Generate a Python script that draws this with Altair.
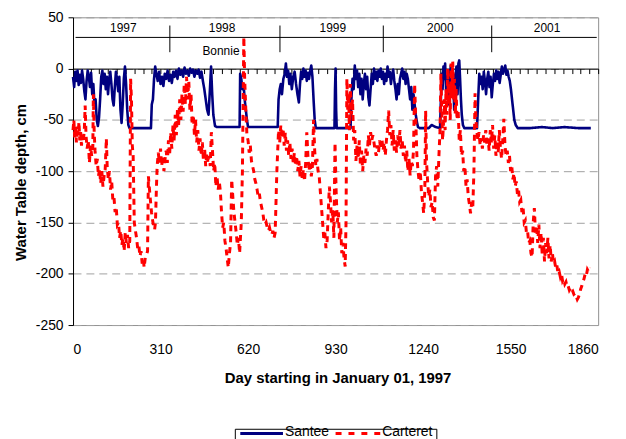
import altair as alt
import pandas as pd

# ---- data (day since 1997-01-01, water table depth in cm) ----
SANTEE = [
    (0, -8), (4, -18), (8, -3), (12, -12), (16, -2), (20, -16), (24, -6), (28, -14), (32, -2), (36, -10),
    (40, -22), (44, -30), (48, -12), (52, -2), (56, -8), (60, -18), (64, -4), (68, -25), (72, -15), (76, -35),
    (80, -30), (84, -50), (88, -56), (92, -48), (96, -30), (100, -8), (104, -2), (108, -15), (112, -5), (116, -20),
    (120, -8), (124, -25), (128, -10), (132, -3), (136, -15), (140, -30), (144, -36), (148, -18), (152, -3),
    (156, -10), (160, -22), (164, -8), (168, -40), (172, -53), (176, -35), (180, -10), (184, 2), (188, -15),
    (192, -40), (196, -55), (200, -58), (240, -58), (276, -58),
    (279, -35), (283, -30), (287, -10), (291, 2), (295, -5), (300, -12), (305, -3), (310, -15), (315, -8),
    (320, -17), (325, -5), (330, -10), (335, -2), (340, -12), (345, -6), (350, -14), (355, -3), (360, -8),
    (365, -2), (370, -10), (375, 0), (380, -6), (385, -2), (390, -8), (395, 1), (400, -5), (405, -2), (410, -7),
    (415, 0), (420, -4), (425, -1), (430, -8), (435, -2), (440, -5), (445, -1), (450, -9), (455, -3), (460, -12),
    (465, -20), (470, -30), (475, -40), (480, -45), (485, -20), (489, 2), (493, -25), (497, -45), (503, -56),
    (510, -57), (550, -57), (590, -57),
    (592, -5), (596, -10), (600, -20), (604, -15), (608, -30), (612, -40), (616, -50), (620, -57), (680, -57),
    (725, -57),
    (728, -30), (732, -20), (736, -15), (740, -25), (745, -10), (750, -5), (754, 5), (758, -8), (762, -2),
    (766, -15), (770, -5), (775, -20), (780, -8), (785, -3), (790, -15), (795, -25), (800, -33), (804, -15),
    (808, -3), (812, -10), (816, 0), (820, -8), (824, -2), (828, -12), (832, -4), (836, -10), (840, -2),
    (844, 3), (848, -8), (852, -30), (856, -50), (860, -58), (890, -58), (926, -58), (928, -20), (930, 0),
    (932, -40), (934, -58), (960, -58), (983, -58),
    (986, -30), (990, -10), (994, -20), (998, 3), (1002, -10), (1006, -2), (1010, -18), (1014, -5), (1018, -25),
    (1022, -10), (1026, -30), (1030, -15), (1034, -5), (1038, -20), (1042, -8), (1046, -28), (1050, -36),
    (1054, -20), (1058, -5), (1062, -15), (1066, 0), (1070, -10), (1074, -3), (1078, -12), (1082, -2),
    (1086, -8), (1090, 0), (1094, -10), (1098, -3), (1102, -15), (1106, -5), (1110, -12), (1114, 2),
    (1118, -8), (1122, -3), (1126, -15), (1130, -6), (1134, -1), (1138, -12), (1142, -20), (1146, -30),
    (1150, -15), (1154, -25), (1158, -10), (1162, -5), (1166, 0), (1170, -10), (1174, -3), (1178, -15),
    (1182, -5), (1186, -10), (1190, -20), (1194, -30), (1198, -18), (1202, -40), (1206, -25), (1210, -35),
    (1214, -45), (1218, -52), (1222, -57), (1228, -58), (1260, -58), (1270, -55), (1285, -57), (1300, -58),
    (1303, -30), (1306, -5), (1309, -20), (1312, 2), (1315, -10), (1318, 5), (1322, -25), (1326, -8),
    (1330, -35), (1334, -15), (1338, 3), (1342, -20), (1346, -5), (1350, -40), (1354, -10), (1358, 2),
    (1362, -25), (1365, 5), (1368, 8), (1371, -10), (1374, -30), (1377, -45), (1381, -55), (1386, -58),
    (1410, -58), (1431, -58),
    (1435, -30), (1439, -5), (1443, -15), (1447, -8), (1451, -20), (1455, -3), (1459, -12), (1463, -25),
    (1467, -10), (1471, -3), (1475, -18), (1479, -8), (1483, -28), (1487, -15), (1491, -5), (1495, -12),
    (1499, -2), (1503, -10), (1507, -3), (1511, -14), (1515, -6), (1519, 2), (1523, -5), (1527, -1),
    (1531, 3), (1535, -6), (1539, -2), (1543, -8), (1547, -12), (1551, -20), (1555, -30), (1559, -40),
    (1563, -50), (1568, -55), (1575, -58), (1620, -58), (1660, -57), (1700, -58), (1740, -57), (1790, -58),
    (1834, -58),
]

CARTERET = [
    (0, -60), (3, -50), (6, -68), (9, -55), (12, -72), (15, -58), (18, -65), (21, -52), (24, -70), (27, -62),
    (30, -75), (33, -66), (36, -72), (40, -60), (43, -36), (46, -65), (50, -78), (54, -70), (58, -92), (62, -75),
    (66, -85), (70, -80), (72, -25), (75, -62), (78, -80), (82, -95), (86, -88), (90, -105), (94, -98),
    (98, -112), (102, -100), (106, -115), (110, -105), (114, -98), (118, -68), (121, -95), (125, -108),
    (129, -100), (133, -118), (137, -110), (141, -128), (145, -125), (149, -140), (153, -135), (157, -152),
    (161, -150), (165, -165), (169, -158), (173, -172), (177, -165), (181, -178), (185, -160), (189, -170),
    (193, -162), (197, -175), (201, -168), (204, -10), (207, -30), (210, -75), (213, -85), (217, -150),
    (221, -158), (225, -165), (229, -175), (233, -172), (237, -183), (241, -178), (245, -190), (249, -186),
    (252, -194), (256, -184), (260, -182), (264, -178), (267, -105), (270, -115), (274, -128), (278, -140),
    (282, -148), (286, -155), (289, -157), (292, -150), (295, -120), (298, -95), (302, -82), (306, -92),
    (310, -78), (314, -95), (318, -85), (322, -100), (326, -88),
    (330, -80), (334, -92), (338, -70), (342, -85), (346, -62), (350, -78), (354, -55), (358, -70), (362, -45),
    (366, -65), (370, -40), (374, -55), (378, -30), (382, -50), (386, -25), (390, -42), (394, -15), (398, -35),
    (402, -8), (406, -30), (410, -12), (414, -40), (418, -25), (422, -55), (426, -45), (430, -65), (434, -50),
    (438, -72), (442, -60), (446, -80), (450, -68), (454, -85), (458, -72), (462, -90), (466, -78), (470, -95),
    (474, -82), (478, -92), (482, -85), (486, -95), (490, -62), (494, -80), (498, -100), (502, -92),
    (506, -115), (510, -105), (514, -118), (518, -110), (522, -120), (526, -140), (530, -155), (534, -150),
    (538, -168), (542, -175), (546, -185), (550, -194), (554, -180), (558, -170), (562, -108), (566, -125),
    (570, -140), (574, -150), (578, -160), (582, -172), (586, -165), (590, -180), (596, -150), (600, -100),
    (605, 31), (608, -10), (612, -40), (616, -65), (620, -70), (624, -82), (628, -75), (632, -90), (636, -95),
    (640, -100), (644, -108), (648, -112), (652, -118), (656, -125), (660, -122), (664, -130), (668, -135),
    (672, -140), (676, -148), (680, -152), (684, -150), (688, -155), (692, -158), (696, -155), (700, -160),
    (704, -162), (708, -158), (712, -165), (716, -160), (719, -130), (722, -100), (725, -80),
    (728, -60), (732, -72), (736, -55), (740, -68), (744, -58), (748, -75), (752, -62), (756, -80), (760, -70),
    (764, -85), (768, -72), (772, -88), (776, -78), (780, -92), (784, -82), (788, -95), (792, -85),
    (796, -100), (800, -90), (804, -105), (808, -95), (812, -108), (816, -98), (820, -110), (824, -92),
    (828, -62), (832, -85), (836, -100), (840, -90), (844, -105), (848, -95), (852, -50), (856, -80),
    (860, -95), (864, -88), (868, -100), (872, -105), (876, -120), (880, -135), (884, -150), (888, -165),
    (892, -160), (896, -175), (900, -168), (904, -140), (908, -115), (912, -130), (916, -150), (920, -138),
    (924, -165), (928, -72), (932, -120), (936, -150), (940, -140), (944, -168), (948, -155), (952, -180),
    (956, -170), (960, -185), (964, -193), (967, -150), (970, -10), (973, -40), (976, -25), (979, -60),
    (982, -15), (986, -45), (990, -30), (994, -70), (998, -60), (1002, -90), (1006, -75), (1010, -88),
    (1014, -70), (1018, -95), (1022, -80), (1026, -100), (1030, -85), (1034, -92), (1038, -78), (1042, -85),
    (1046, -65), (1050, -75), (1054, -62), (1058, -70), (1062, -65), (1066, -72), (1070, -80), (1074, -85),
    (1078, -75), (1082, -82), (1086, -70), (1090, -78), (1094, -68), (1098, -80), (1102, -72), (1106, -85),
    (1110, -70), (1114, -60), (1118, -41), (1122, -65), (1126, -55), (1130, -75), (1134, -60), (1138, -80),
    (1142, -70), (1146, -82), (1150, -65), (1154, -75), (1158, -60), (1162, -78), (1166, -70), (1170, -85),
    (1174, -75), (1178, -92), (1182, -80), (1186, -100), (1190, -88), (1194, -104), (1198, -90), (1202, -95),
    (1206, -80), (1210, -15), (1214, -50), (1218, -85), (1222, -100), (1226, -110), (1230, -100),
    (1234, -120), (1238, -130), (1242, -141), (1246, -120), (1249, -41), (1252, -90), (1256, -110),
    (1260, -125), (1264, -118), (1268, -135), (1272, -130), (1276, -145), (1280, -148),
    (1284, -105), (1288, -95), (1292, -115), (1296, -85), (1300, -60), (1303, -5), (1306, -40), (1309, -70),
    (1312, -55), (1315, -30), (1318, -60), (1321, -20), (1324, -45), (1327, 0), (1330, -35), (1333, -15),
    (1336, -50), (1339, 5), (1342, -25), (1345, 7), (1348, -30), (1351, -10), (1354, -45), (1357, -20),
    (1360, -50), (1364, -40), (1368, -70), (1372, -60), (1376, -85), (1380, -80), (1384, -100), (1388, -95),
    (1392, -115), (1396, -108), (1400, -125), (1404, -132), (1408, -141), (1412, -130), (1416, -135),
    (1420, -100), (1424, -24), (1427, -50), (1430, -60), (1434, -70), (1438, -62), (1442, -75), (1446, -68),
    (1450, -78), (1454, -65), (1458, -72), (1462, -60), (1466, -75), (1470, -68), (1474, -80), (1478, -60),
    (1482, -72), (1486, -55), (1490, -78), (1494, -65), (1498, -85), (1502, -70), (1506, -82), (1510, -60),
    (1514, -78), (1518, -88), (1522, -70), (1526, -49), (1530, -75), (1534, -85), (1538, -80), (1542, -92),
    (1546, -85), (1550, -100), (1554, -95), (1558, -108), (1562, -102), (1566, -115), (1570, -110),
    (1574, -122), (1578, -118), (1582, -130), (1586, -128), (1590, -140), (1594, -135), (1598, -150),
    (1602, -148), (1606, -160), (1610, -158), (1614, -170), (1618, -168), (1622, -180), (1626, -184),
    (1630, -150), (1634, -136), (1638, -160), (1642, -155), (1646, -170), (1650, -152), (1654, -175),
    (1658, -160), (1662, -182), (1666, -165), (1670, -188), (1674, -170), (1678, -180), (1682, -165),
    (1686, -185), (1690, -172), (1694, -188), (1698, -180), (1702, -190), (1706, -188), (1710, -195),
    (1714, -192), (1718, -200), (1722, -198), (1726, -203), (1730, -200), (1734, -207), (1738, -205),
    (1742, -210), (1746, -208), (1750, -213), (1754, -212), (1758, -216), (1762, -214), (1766, -218),
    (1770, -217), (1774, -220), (1778, -219), (1782, -222), (1786, -225), (1790, -223), (1794, -220),
    (1798, -215), (1802, -212), (1806, -208), (1810, -205), (1814, -200), (1818, -202), (1822, -196),
    (1826, -198), (1830, -194),
]

SITES = ["Santee", "Carteret"]
SITE_COLORS = ["#000080", "#FF0000"]

YEAR_LABELS = ["1997", "1998", "1999", "2000", "2001"]
YEAR_LABEL_DAY = [178, 528, 920, 1301, 1679]
YEAR_LABEL_CM = [40, 40, 40, 40, 40]
YEAR_SEP_DAY = [343, 733, 1099, 1483]
YEAR_SEP_TOP = 42
YEAR_SEP_BOTTOM = 16
YEAR_LINE_START, YEAR_LINE_END, YEAR_LINE_CM = 9, 1855, 30.4
EVENT_LABEL, EVENT_DAY, EVENT_CM = "Bonnie", 524, 17

X_LABEL_TICKS = [0, 310, 620, 930, 1240, 1550, 1860]
X_MINOR_TICKS = list(range(0, 1861, 31))
Y_TICKS = [-250, -200, -150, -100, -50, 0, 50]

FONT = "Liberation Sans"

rows = [{"day": d, "cm": v, "site": "Santee"} for d, v in SANTEE]
rows += [{"day": d, "cm": v, "site": "Carteret"} for d, v in CARTERET]
df = pd.DataFrame(rows)

sep_df = pd.DataFrame({"day": YEAR_SEP_DAY, "top": [YEAR_SEP_TOP] * len(YEAR_SEP_DAY),
                       "bottom": [YEAR_SEP_BOTTOM] * len(YEAR_SEP_DAY)})
line_df = pd.DataFrame({"x1": [YEAR_LINE_START], "x2": [YEAR_LINE_END], "y": [YEAR_LINE_CM]})
lab_df = pd.DataFrame({"day": YEAR_LABEL_DAY + [EVENT_DAY], "cm": YEAR_LABEL_CM + [EVENT_CM],
                       "label": YEAR_LABELS + [EVENT_LABEL]})
legend_df = pd.DataFrame({"site": SITES})

xs = alt.Scale(domain=[0, 1860], nice=False, zero=False)
ys = alt.Scale(domain=[-250, 50], nice=False, zero=False)

W, H = 529, 310
y_zero_px = H * 50 / 300.0

color = alt.Color("site:N", scale=alt.Scale(domain=SITES, range=SITE_COLORS), legend=None)
dash = alt.StrokeDash("site:N", scale=alt.Scale(domain=SITES, range=[[1, 0], [6, 5]]), legend=None)

y_axis = alt.Axis(
    values=Y_TICKS, title="Water Table depth, cm", titleFont=FONT, titleFontSize=15,
    titleFontWeight="bold", titleColor="black", titleAngle=270, titleX=-53, titleY=166,
    titleAlign="center", titleBaseline="middle",
    labelFont=FONT, labelFontSize=14, labelColor="black", labelPadding=5,
    labelExpr="datum.value + ''", tickSize=5, tickColor="black", domainColor="black",
    grid=True, gridColor="#A0A0A0", gridDash=[8, 5], gridWidth=1,
)

x_zero_axis = alt.Axis(
    orient="bottom", offset=-(H - y_zero_px), values=X_MINOR_TICKS, labels=False, ticks=True,
    tickSize=5, tickColor="black", domainColor="black", grid=False, title=None,
)
x_label_axis = alt.Axis(
    orient="bottom", values=X_LABEL_TICKS, ticks=False, tickSize=0, domain=False, grid=False,
    format="d", labelFont=FONT, labelFontSize=14, labelColor="black", labelPadding=18,
    title="Day starting in January 01, 1997", titleFont=FONT, titleFontSize=15,
    titleFontWeight="bold", titleColor="black", titleX=266.5, titleY=53, titleBaseline="middle",
    titleAlign="center",
)

santee = alt.Chart(df).transform_filter(alt.datum.site == "Santee").mark_line(
    strokeWidth=2.6, strokeJoin="round"
).encode(
    x=alt.X("day:Q", scale=xs, axis=x_zero_axis),
    y=alt.Y("cm:Q", scale=ys, axis=y_axis),
    color=color, strokeDash=dash,
)

carteret = alt.Chart(df).transform_filter(alt.datum.site == "Carteret").mark_line(
    strokeWidth=3, strokeCap="butt"
).encode(
    x=alt.X("day:Q", scale=xs, axis=x_label_axis),
    y=alt.Y("cm:Q", scale=ys, axis=None),
    color=color, strokeDash=dash,
)

seps = alt.Chart(sep_df).mark_rule(color="black", strokeWidth=1).encode(
    x=alt.X("day:Q", scale=xs, axis=None),
    y=alt.Y("top:Q", scale=ys, axis=None),
    y2="bottom:Q",
)
hline = alt.Chart(line_df).mark_rule(color="black", strokeWidth=1).encode(
    x=alt.X("x1:Q", scale=xs, axis=None),
    x2="x2:Q",
    y=alt.Y("y:Q", scale=ys, axis=None),
)
labels = alt.Chart(lab_df).mark_text(
    font=FONT, fontSize=12, color="black", align="center", baseline="middle"
).encode(
    x=alt.X("day:Q", scale=xs, axis=None),
    y=alt.Y("cm:Q", scale=ys, axis=None),
    text="label:N",
)

# ---- legend box below the plot (positions in px relative to the plot's top-left) ----
LEG_BOX_TOP = H + 105.0
LEG_LINE_Y = H + 109.3
LEG_TEXT_Y = H + 108.0
leg_box = alt.Chart(legend_df.head(1)).mark_rect(
    fill="white", stroke="black", strokeWidth=1
).encode(
    x=alt.value(163.5), x2=alt.value(366.5), y=alt.value(LEG_BOX_TOP), y2=alt.value(H + 135.0),
)
leg_santee_line = alt.Chart(legend_df.head(1)).mark_rule(
    color=SITE_COLORS[0], strokeWidth=3, strokeCap="butt"
).encode(x=alt.value(168.5), x2=alt.value(211.5), y=alt.value(LEG_LINE_Y))
leg_carteret_line = alt.Chart(legend_df.tail(1)).mark_rule(
    color=SITE_COLORS[1], strokeWidth=3, strokeCap="butt", strokeDash=[6, 7]
).encode(x=alt.value(264.5), x2=alt.value(310.5), y=alt.value(LEG_LINE_Y))
leg_santee_text = alt.Chart(legend_df.head(1)).mark_text(
    font=FONT, fontSize=14, color="black", align="left", baseline="middle"
).encode(x=alt.value(213.5), y=alt.value(LEG_TEXT_Y), text="site:N")
leg_carteret_text = alt.Chart(legend_df.tail(1)).mark_text(
    font=FONT, fontSize=14, color="black", align="left", baseline="middle"
).encode(x=alt.value(311.5), y=alt.value(LEG_TEXT_Y), text="site:N")

chart = alt.layer(
    santee, carteret, seps, hline, labels,
    leg_box, leg_santee_line, leg_carteret_line, leg_santee_text, leg_carteret_text,
).resolve_axis(
    x="independent", y="independent"
).properties(
    width=W, height=H,
    autosize=alt.AutoSizeParams(type="none"),
    padding={"left": 65.5, "top": 7.7, "right": 20, "bottom": 140},
    background="white",
).configure_view(
    stroke="#909090", strokeWidth=1
)

chart.save("out.html", embed_options={"renderer": "svg", "actions": False})
